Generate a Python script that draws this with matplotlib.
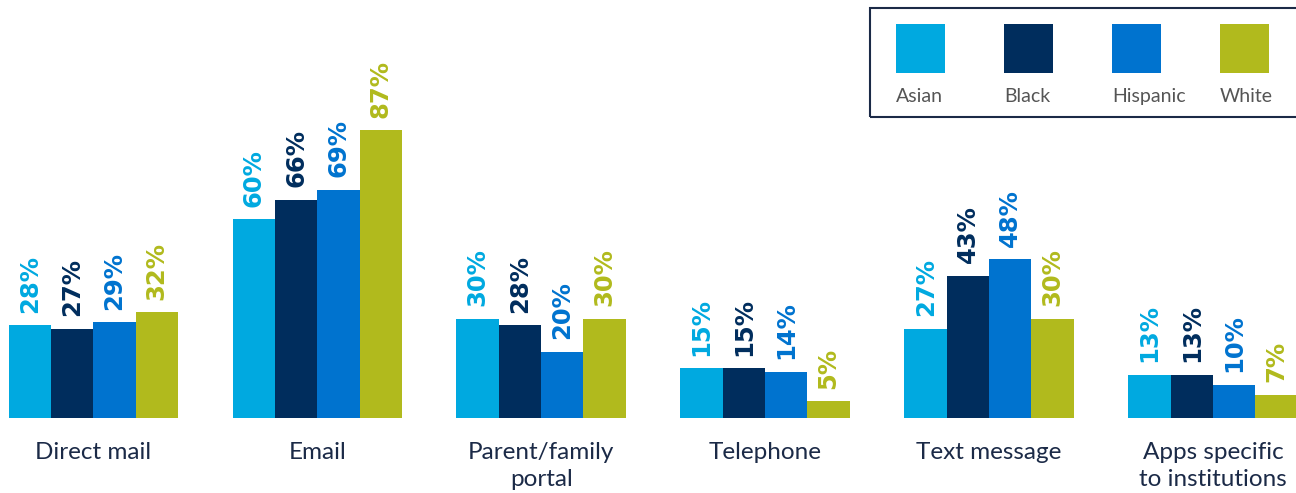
import matplotlib
matplotlib.use("Agg")
import matplotlib.pyplot as plt
from matplotlib.patches import Rectangle
import numpy as np

categories = ["Direct mail", "Email", "Parent/family\nportal", "Telephone",
              "Text message", "Apps specific\nto institutions"]
groups = ["Asian", "Black", "Hispanic", "White"]
asian = [28, 60, 30, 15, 27, 13]
black = [27, 66, 28, 15, 43, 13]
hispanic = [29, 69, 20, 14, 48, 10]
white = [32, 87, 30, 5, 30, 7]
colors = ["#00A9E0", "#002D5D", "#0073CF", "#B1BA1D"]

series = [asian, black, hispanic, white]

fig = plt.figure(figsize=(12.96, 4.93), dpi=100)
ax = fig.add_axes([0, 75 / 493, 1, 418 / 493])

x = np.arange(len(categories))
width = 0.189
for i, (vals, col) in enumerate(zip(series, colors)):
    pos = x + (i - 1.5) * width
    ax.bar(pos, vals, width=width, color=col, linewidth=0)
    for px, v in zip(pos, vals):
        ax.annotate(f"{v}%", (px, v), xytext=(0, 9), textcoords="offset points",
                    rotation=90, ha="center", va="bottom", color=col,
                    fontsize=17.5, fontweight="bold", family="DejaVu Sans")

ax.set_xlim(-0.416, 5.370)
ax.set_ylim(0, 126.3)
ax.axis("off")

for xi, cat in zip(x, categories):
    ax.annotate(cat, (xi, 0), xytext=(0, -17), textcoords="offset points",
                ha="center", va="top", fontsize=17.5, color="#1B2A47",
                family="Lato", linespacing=1.38)

# legend box with swatches above names
W, H = 1296, 493
box = Rectangle((870 / W, 1 - 117 / H), 430 / W, 109 / H, transform=fig.transFigure,
                fill=False, edgecolor="#1B2A47", linewidth=1.5, clip_on=False)
fig.add_artist(box)
for k, (name, col) in enumerate(zip(groups, colors)):
    x0 = 896 + k * 108
    fig.add_artist(Rectangle((x0 / W, 1 - 73 / H), 49 / W, 49 / H,
                             transform=fig.transFigure, color=col, linewidth=0))
    fig.text(x0 / W, 1 - 102 / H, name, ha="left", va="baseline", fontsize=14,
             color="#555555", family="Lato")

fig.savefig("out.png", dpi=100)
